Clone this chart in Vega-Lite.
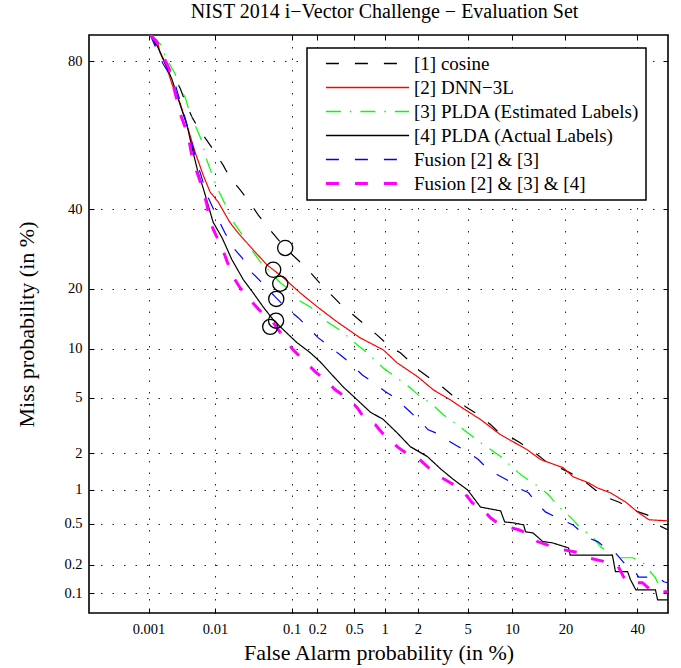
{
  "$schema": "https://vega.github.io/schema/vega-lite/v6.json",
  "width": 579,
  "height": 578,
  "autosize": {"type": "none"},
  "padding": {"left": 89, "top": 35, "right": 13, "bottom": 55},
  "background": "white",
  "config": {
    "font": "Liberation Serif",
    "view": {"stroke": "black", "strokeWidth": 1.6},
    "axis": {
      "labelFont": "Liberation Serif", "labelFontSize": 14.5, "labelColor": "black",
      "titleFont": "Liberation Serif", "titleFontSize": 22, "titleFontWeight": "normal", "titleColor": "black",
      "domain": false, "tickColor": "black", "tickSize": -5, "tickWidth": 1,
      "gridColor": "#222", "gridDash": [1.5, 10], "gridWidth": 1, "gridOpacity": 1,
      "labelOverlap": false, "labelFlush": false
    }
  },
  "title": {"text": "NIST 2014 i−Vector Challenge − Evaluation Set", "fontSize": 20, "font": "Liberation Serif", "fontWeight": "normal", "color": "black", "offset": 13, "dx": 6, "anchor": "middle"},
  "datasets": {
    "curves": [
      {"s":"[1] cosine","fa":0.00106,"miss":85},{"s":"[1] cosine","fa":0.0021,"miss":78.4},{"s":"[1] cosine","fa":0.0031,"miss":73.9},{"s":"[1] cosine","fa":0.0037,"miss":70.6},{"s":"[1] cosine","fa":0.0047,"miss":66.4},{"s":"[1] cosine","fa":0.0057,"miss":63.7},{"s":"[1] cosine","fa":0.01,"miss":56.7},{"s":"[1] cosine","fa":0.013,"miss":52.9},{"s":"[1] cosine","fa":0.016,"miss":49.4},{"s":"[1] cosine","fa":0.0222,"miss":45.6},{"s":"[1] cosine","fa":0.0295,"miss":42.1},{"s":"[1] cosine","fa":0.0383,"miss":38.4},{"s":"[1] cosine","fa":0.0546,"miss":34.2},{"s":"[1] cosine","fa":0.0837,"miss":29.5},{"s":"[1] cosine","fa":0.1375,"miss":25.3},{"s":"[1] cosine","fa":0.175,"miss":23.1},{"s":"[1] cosine","fa":0.232,"miss":20.4},{"s":"[1] cosine","fa":0.3,"miss":18.4},{"s":"[1] cosine","fa":0.383,"miss":16.5},{"s":"[1] cosine","fa":0.49,"miss":15.05},{"s":"[1] cosine","fa":0.677,"miss":13.1},{"s":"[1] cosine","fa":0.848,"miss":11.85},{"s":"[1] cosine","fa":1.13,"miss":10.2},{"s":"[1] cosine","fa":1.4,"miss":9.46},{"s":"[1] cosine","fa":1.72,"miss":8.38},{"s":"[1] cosine","fa":2.02,"miss":7.5},{"s":"[1] cosine","fa":2.65,"miss":6.51},{"s":"[1] cosine","fa":3.26,"miss":5.8},{"s":"[1] cosine","fa":4.05,"miss":4.98},{"s":"[1] cosine","fa":4.83,"miss":4.35},{"s":"[1] cosine","fa":5.98,"miss":3.83},{"s":"[1] cosine","fa":7.25,"miss":3.27},{"s":"[1] cosine","fa":8.17,"miss":2.89},{"s":"[1] cosine","fa":9.8,"miss":2.65},{"s":"[1] cosine","fa":11.3,"miss":2.39},{"s":"[1] cosine","fa":14.2,"miss":1.94},{"s":"[1] cosine","fa":16.1,"miss":1.68},{"s":"[1] cosine","fa":18.2,"miss":1.56},{"s":"[1] cosine","fa":21.1,"miss":1.39},{"s":"[1] cosine","fa":23.6,"miss":1.26},{"s":"[1] cosine","fa":28.2,"miss":0.964},{"s":"[1] cosine","fa":31,"miss":0.856},{"s":"[1] cosine","fa":34.3,"miss":0.786},{"s":"[1] cosine","fa":38.6,"miss":0.669},{"s":"[1] cosine","fa":43.4,"miss":0.6},{"s":"[1] cosine","fa":46.6,"miss":0.488},{"s":"[1] cosine","fa":49.9,"miss":0.439},

      {"s":"[2] DNN−3L","fa":0.00106,"miss":85},{"s":"[2] DNN−3L","fa":0.00137,"miss":84},{"s":"[2] DNN−3L","fa":0.00152,"miss":81.7},{"s":"[2] DNN−3L","fa":0.00196,"miss":78.4},{"s":"[2] DNN−3L","fa":0.00233,"miss":74.9},{"s":"[2] DNN−3L","fa":0.0031,"miss":70.2},{"s":"[2] DNN−3L","fa":0.00393,"miss":64.3},{"s":"[2] DNN−3L","fa":0.00517,"miss":56.7},{"s":"[2] DNN−3L","fa":0.00677,"miss":50},{"s":"[2] DNN−3L","fa":0.00853,"miss":45},{"s":"[2] DNN−3L","fa":0.0111,"miss":42.1},{"s":"[2] DNN−3L","fa":0.016,"miss":36.4},{"s":"[2] DNN−3L","fa":0.0209,"miss":33.4},{"s":"[2] DNN−3L","fa":0.033,"miss":29},{"s":"[2] DNN−3L","fa":0.05,"miss":25.3},{"s":"[2] DNN−3L","fa":0.0795,"miss":22.4},{"s":"[2] DNN−3L","fa":0.1265,"miss":19.2},{"s":"[2] DNN−3L","fa":0.2,"miss":16.5},{"s":"[2] DNN−3L","fa":0.33,"miss":13.9},{"s":"[2] DNN−3L","fa":0.576,"miss":11.45},{"s":"[2] DNN−3L","fa":0.971,"miss":9.82},{"s":"[2] DNN−3L","fa":1.31,"miss":8.26},{"s":"[2] DNN−3L","fa":2.0,"miss":6.8},{"s":"[2] DNN−3L","fa":2.7,"miss":5.63},{"s":"[2] DNN−3L","fa":3.7,"miss":4.84},{"s":"[2] DNN−3L","fa":4.42,"miss":4.35},{"s":"[2] DNN−3L","fa":6.18,"miss":3.55},{"s":"[2] DNN−3L","fa":8.47,"miss":2.75},{"s":"[2] DNN−3L","fa":10.24,"miss":2.43},{"s":"[2] DNN−3L","fa":12.4,"miss":2.12},{"s":"[2] DNN−3L","fa":14.77,"miss":1.78},{"s":"[2] DNN−3L","fa":19.5,"miss":1.53},{"s":"[2] DNN−3L","fa":21.8,"miss":1.29},{"s":"[2] DNN−3L","fa":25.7,"miss":1.15},{"s":"[2] DNN−3L","fa":28.2,"miss":1.04},{"s":"[2] DNN−3L","fa":31.8,"miss":0.946},{"s":"[2] DNN−3L","fa":36.4,"miss":0.786},{"s":"[2] DNN−3L","fa":40.1,"miss":0.642},{"s":"[2] DNN−3L","fa":43.8,"miss":0.544},{"s":"[2] DNN−3L","fa":49.9,"miss":0.532},

      {"s":"[3] PLDA (Estimated Labels)","fa":0.00106,"miss":85},{"s":"[3] PLDA (Estimated Labels)","fa":0.00152,"miss":83.4},{"s":"[3] PLDA (Estimated Labels)","fa":0.00182,"miss":81.1},{"s":"[3] PLDA (Estimated Labels)","fa":0.0026,"miss":77.2},{"s":"[3] PLDA (Estimated Labels)","fa":0.0031,"miss":73.9},{"s":"[3] PLDA (Estimated Labels)","fa":0.0037,"miss":71.6},{"s":"[3] PLDA (Estimated Labels)","fa":0.0043,"miss":67.8},{"s":"[3] PLDA (Estimated Labels)","fa":0.0066,"miss":59.6},{"s":"[3] PLDA (Estimated Labels)","fa":0.0072,"miss":55.8},{"s":"[3] PLDA (Estimated Labels)","fa":0.0107,"miss":46.2},{"s":"[3] PLDA (Estimated Labels)","fa":0.013,"miss":42.7},{"s":"[3] PLDA (Estimated Labels)","fa":0.0172,"miss":37},{"s":"[3] PLDA (Estimated Labels)","fa":0.0222,"miss":33.7},{"s":"[3] PLDA (Estimated Labels)","fa":0.033,"miss":28.5},{"s":"[3] PLDA (Estimated Labels)","fa":0.0407,"miss":26.1},{"s":"[3] PLDA (Estimated Labels)","fa":0.0546,"miss":23.7},{"s":"[3] PLDA (Estimated Labels)","fa":0.0728,"miss":21.3},{"s":"[3] PLDA (Estimated Labels)","fa":0.0966,"miss":19.8},{"s":"[3] PLDA (Estimated Labels)","fa":0.12,"miss":17.8},{"s":"[3] PLDA (Estimated Labels)","fa":0.166,"miss":16.5},{"s":"[3] PLDA (Estimated Labels)","fa":0.215,"miss":15.05},{"s":"[3] PLDA (Estimated Labels)","fa":0.257,"miss":13.9},{"s":"[3] PLDA (Estimated Labels)","fa":0.355,"miss":12.6},{"s":"[3] PLDA (Estimated Labels)","fa":0.536,"miss":10.5},{"s":"[3] PLDA (Estimated Labels)","fa":0.677,"miss":9.46},{"s":"[3] PLDA (Estimated Labels)","fa":0.97,"miss":7.7},{"s":"[3] PLDA (Estimated Labels)","fa":1.2,"miss":6.98},{"s":"[3] PLDA (Estimated Labels)","fa":1.72,"miss":5.8},{"s":"[3] PLDA (Estimated Labels)","fa":2.1,"miss":5.06},{"s":"[3] PLDA (Estimated Labels)","fa":2.55,"miss":4.63},{"s":"[3] PLDA (Estimated Labels)","fa":3.26,"miss":3.83},{"s":"[3] PLDA (Estimated Labels)","fa":3.85,"miss":3.44},{"s":"[3] PLDA (Estimated Labels)","fa":5.88,"miss":2.51},{"s":"[3] PLDA (Estimated Labels)","fa":6.48,"miss":2.32},{"s":"[3] PLDA (Estimated Labels)","fa":8.47,"miss":1.88},{"s":"[3] PLDA (Estimated Labels)","fa":9.34,"miss":1.68},{"s":"[3] PLDA (Estimated Labels)","fa":11,"miss":1.39},{"s":"[3] PLDA (Estimated Labels)","fa":12.1,"miss":1.26},{"s":"[3] PLDA (Estimated Labels)","fa":14.77,"miss":1.04},{"s":"[3] PLDA (Estimated Labels)","fa":16.3,"miss":0.91},{"s":"[3] PLDA (Estimated Labels)","fa":18.8,"miss":0.696},{"s":"[3] PLDA (Estimated Labels)","fa":21.1,"miss":0.578},{"s":"[3] PLDA (Estimated Labels)","fa":23.6,"miss":0.459},{"s":"[3] PLDA (Estimated Labels)","fa":27,"miss":0.369},{"s":"[3] PLDA (Estimated Labels)","fa":29.1,"miss":0.3},{"s":"[3] PLDA (Estimated Labels)","fa":33.3,"miss":0.235},{"s":"[3] PLDA (Estimated Labels)","fa":38.6,"miss":0.235},{"s":"[3] PLDA (Estimated Labels)","fa":41.7,"miss":0.214},{"s":"[3] PLDA (Estimated Labels)","fa":45.9,"miss":0.146},{"s":"[3] PLDA (Estimated Labels)","fa":46.6,"miss":0.13},{"s":"[3] PLDA (Estimated Labels)","fa":49.9,"miss":0.13},

      {"s":"[4] PLDA (Actual Labels)","fa":0.00106,"miss":85},{"s":"[4] PLDA (Actual Labels)","fa":0.00114,"miss":84.5},{"s":"[4] PLDA (Actual Labels)","fa":0.00137,"miss":83},{"s":"[4] PLDA (Actual Labels)","fa":0.00169,"miss":80.6},{"s":"[4] PLDA (Actual Labels)","fa":0.00233,"miss":76},{"s":"[4] PLDA (Actual Labels)","fa":0.00288,"miss":71.4},{"s":"[4] PLDA (Actual Labels)","fa":0.00393,"miss":64.3},{"s":"[4] PLDA (Actual Labels)","fa":0.00483,"miss":56.7},{"s":"[4] PLDA (Actual Labels)","fa":0.0057,"miss":50.85},{"s":"[4] PLDA (Actual Labels)","fa":0.00677,"miss":46.2},{"s":"[4] PLDA (Actual Labels)","fa":0.008,"miss":41.2},{"s":"[4] PLDA (Actual Labels)","fa":0.0094,"miss":36.4},{"s":"[4] PLDA (Actual Labels)","fa":0.0126,"miss":32.1},{"s":"[4] PLDA (Actual Labels)","fa":0.0172,"miss":26.55},{"s":"[4] PLDA (Actual Labels)","fa":0.0244,"miss":22},{"s":"[4] PLDA (Actual Labels)","fa":0.033,"miss":19.2},{"s":"[4] PLDA (Actual Labels)","fa":0.0444,"miss":16.5},{"s":"[4] PLDA (Actual Labels)","fa":0.0595,"miss":14.25},{"s":"[4] PLDA (Actual Labels)","fa":0.0795,"miss":12.65},{"s":"[4] PLDA (Actual Labels)","fa":0.1166,"miss":10.76},{"s":"[4] PLDA (Actual Labels)","fa":0.166,"miss":9.46},{"s":"[4] PLDA (Actual Labels)","fa":0.215,"miss":8.38},{"s":"[4] PLDA (Actual Labels)","fa":0.278,"miss":7.19},{"s":"[4] PLDA (Actual Labels)","fa":0.383,"miss":5.88},{"s":"[4] PLDA (Actual Labels)","fa":0.536,"miss":4.84},{"s":"[4] PLDA (Actual Labels)","fa":0.725,"miss":4},{"s":"[4] PLDA (Actual Labels)","fa":0.971,"miss":3.55},{"s":"[4] PLDA (Actual Labels)","fa":1.31,"miss":2.84},{"s":"[4] PLDA (Actual Labels)","fa":1.72,"miss":2.24},{"s":"[4] PLDA (Actual Labels)","fa":2.41,"miss":1.88},{"s":"[4] PLDA (Actual Labels)","fa":3.09,"miss":1.5},{"s":"[4] PLDA (Actual Labels)","fa":3.93,"miss":1.22},{"s":"[4] PLDA (Actual Labels)","fa":5,"miss":1},{"s":"[4] PLDA (Actual Labels)","fa":6.18,"miss":0.71},{"s":"[4] PLDA (Actual Labels)","fa":8.47,"miss":0.655},{"s":"[4] PLDA (Actual Labels)","fa":9.0,"miss":0.52},{"s":"[4] PLDA (Actual Labels)","fa":10.24,"miss":0.51},{"s":"[4] PLDA (Actual Labels)","fa":11.8,"miss":0.488},{"s":"[4] PLDA (Actual Labels)","fa":12.1,"miss":0.42},{"s":"[4] PLDA (Actual Labels)","fa":13.4,"miss":0.41},{"s":"[4] PLDA (Actual Labels)","fa":15.2,"miss":0.339},{"s":"[4] PLDA (Actual Labels)","fa":17.1,"miss":0.33},{"s":"[4] PLDA (Actual Labels)","fa":20.7,"miss":0.294},{"s":"[4] PLDA (Actual Labels)","fa":21.1,"miss":0.25},{"s":"[4] PLDA (Actual Labels)","fa":32.4,"miss":0.25},{"s":"[4] PLDA (Actual Labels)","fa":33.3,"miss":0.17},{"s":"[4] PLDA (Actual Labels)","fa":37,"miss":0.17},{"s":"[4] PLDA (Actual Labels)","fa":37.9,"miss":0.14},{"s":"[4] PLDA (Actual Labels)","fa":39.6,"miss":0.109},{"s":"[4] PLDA (Actual Labels)","fa":45.9,"miss":0.109},{"s":"[4] PLDA (Actual Labels)","fa":46.6,"miss":0.085},{"s":"[4] PLDA (Actual Labels)","fa":49.9,"miss":0.085},

      {"s":"Fusion [2] & [3]","fa":0.00106,"miss":85},{"s":"Fusion [2] & [3]","fa":0.00141,"miss":81.7},{"s":"Fusion [2] & [3]","fa":0.00169,"miss":79.5},{"s":"Fusion [2] & [3]","fa":0.0026,"miss":74.9},{"s":"Fusion [2] & [3]","fa":0.00288,"miss":72.5},{"s":"Fusion [2] & [3]","fa":0.0037,"miss":66.2},{"s":"Fusion [2] & [3]","fa":0.0043,"miss":61.6},{"s":"Fusion [2] & [3]","fa":0.0055,"miss":53.8},{"s":"Fusion [2] & [3]","fa":0.0077,"miss":44.1},{"s":"Fusion [2] & [3]","fa":0.0094,"miss":40.3},{"s":"Fusion [2] & [3]","fa":0.0118,"miss":36.1},{"s":"Fusion [2] & [3]","fa":0.0138,"miss":33.4},{"s":"Fusion [2] & [3]","fa":0.019,"miss":29},{"s":"Fusion [2] & [3]","fa":0.0236,"miss":27},{"s":"Fusion [2] & [3]","fa":0.032,"miss":23.5},{"s":"Fusion [2] & [3]","fa":0.0429,"miss":21.3},{"s":"Fusion [2] & [3]","fa":0.0631,"miss":18.4},{"s":"Fusion [2] & [3]","fa":0.0837,"miss":16.5},{"s":"Fusion [2] & [3]","fa":0.12,"miss":14.6},{"s":"Fusion [2] & [3]","fa":0.145,"miss":13.45},{"s":"Fusion [2] & [3]","fa":0.205,"miss":11.45},{"s":"Fusion [2] & [3]","fa":0.257,"miss":10.5},{"s":"Fusion [2] & [3]","fa":0.355,"miss":9.22},{"s":"Fusion [2] & [3]","fa":0.451,"miss":8.26},{"s":"Fusion [2] & [3]","fa":0.604,"miss":6.98},{"s":"Fusion [2] & [3]","fa":0.761,"miss":6.33},{"s":"Fusion [2] & [3]","fa":1.02,"miss":5.47},{"s":"Fusion [2] & [3]","fa":1.255,"miss":4.98},{"s":"Fusion [2] & [3]","fa":1.46,"miss":4.49},{"s":"Fusion [2] & [3]","fa":1.72,"miss":4},{"s":"Fusion [2] & [3]","fa":2.1,"miss":3.44},{"s":"Fusion [2] & [3]","fa":2.45,"miss":2.99},{"s":"Fusion [2] & [3]","fa":3.09,"miss":2.75},{"s":"Fusion [2] & [3]","fa":3.7,"miss":2.43},{"s":"Fusion [2] & [3]","fa":4.27,"miss":2.24},{"s":"Fusion [2] & [3]","fa":5,"miss":2.04},{"s":"Fusion [2] & [3]","fa":5.98,"miss":1.78},{"s":"Fusion [2] & [3]","fa":6.7,"miss":1.56},{"s":"Fusion [2] & [3]","fa":8.07,"miss":1.34},{"s":"Fusion [2] & [3]","fa":9.8,"miss":1.17},{"s":"Fusion [2] & [3]","fa":11.6,"miss":1},{"s":"Fusion [2] & [3]","fa":12.6,"miss":0.946},{"s":"Fusion [2] & [3]","fa":14.4,"miss":0.741},{"s":"Fusion [2] & [3]","fa":15.7,"miss":0.642},{"s":"Fusion [2] & [3]","fa":18.2,"miss":0.567},{"s":"Fusion [2] & [3]","fa":21.8,"miss":0.488},{"s":"Fusion [2] & [3]","fa":25.5,"miss":0.369},{"s":"Fusion [2] & [3]","fa":28.2,"miss":0.339},{"s":"Fusion [2] & [3]","fa":31,"miss":0.282},{"s":"Fusion [2] & [3]","fa":33.3,"miss":0.263},{"s":"Fusion [2] & [3]","fa":36.4,"miss":0.199},{"s":"Fusion [2] & [3]","fa":38.9,"miss":0.178},{"s":"Fusion [2] & [3]","fa":40.5,"miss":0.149},{"s":"Fusion [2] & [3]","fa":46.9,"miss":0.149},{"s":"Fusion [2] & [3]","fa":48.6,"miss":0.133},{"s":"Fusion [2] & [3]","fa":49.9,"miss":0.13},

      {"s":"Fusion [2] & [3] & [4]","fa":0.00106,"miss":85},{"s":"Fusion [2] & [3] & [4]","fa":0.00137,"miss":83.6},{"s":"Fusion [2] & [3] & [4]","fa":0.00163,"miss":81.5},{"s":"Fusion [2] & [3] & [4]","fa":0.0021,"miss":78.4},{"s":"Fusion [2] & [3] & [4]","fa":0.0026,"miss":72.8},{"s":"Fusion [2] & [3] & [4]","fa":0.0031,"miss":67.5},{"s":"Fusion [2] & [3] & [4]","fa":0.00407,"miss":61.6},{"s":"Fusion [2] & [3] & [4]","fa":0.0047,"miss":54.9},{"s":"Fusion [2] & [3] & [4]","fa":0.0055,"miss":50.85},{"s":"Fusion [2] & [3] & [4]","fa":0.0066,"miss":46.2},{"s":"Fusion [2] & [3] & [4]","fa":0.0077,"miss":41.2},{"s":"Fusion [2] & [3] & [4]","fa":0.00853,"miss":36.4},{"s":"Fusion [2] & [3] & [4]","fa":0.01,"miss":33.4},{"s":"Fusion [2] & [3] & [4]","fa":0.0126,"miss":29.5},{"s":"Fusion [2] & [3] & [4]","fa":0.0148,"miss":26.1},{"s":"Fusion [2] & [3] & [4]","fa":0.0179,"miss":22.6},{"s":"Fusion [2] & [3] & [4]","fa":0.0222,"miss":20.2},{"s":"Fusion [2] & [3] & [4]","fa":0.032,"miss":17.4},{"s":"Fusion [2] & [3] & [4]","fa":0.0429,"miss":15.4},{"s":"Fusion [2] & [3] & [4]","fa":0.0595,"miss":13.8},{"s":"Fusion [2] & [3] & [4]","fa":0.0795,"miss":11.6},{"s":"Fusion [2] & [3] & [4]","fa":0.1046,"miss":9.82},{"s":"Fusion [2] & [3] & [4]","fa":0.1375,"miss":8.62},{"s":"Fusion [2] & [3] & [4]","fa":0.19,"miss":7.29},{"s":"Fusion [2] & [3] & [4]","fa":0.245,"miss":6.51},{"s":"Fusion [2] & [3] & [4]","fa":0.315,"miss":5.63},{"s":"Fusion [2] & [3] & [4]","fa":0.421,"miss":4.98},{"s":"Fusion [2] & [3] & [4]","fa":0.536,"miss":4.28},{"s":"Fusion [2] & [3] & [4]","fa":0.618,"miss":3.72},{"s":"Fusion [2] & [3] & [4]","fa":0.809,"miss":3.27},{"s":"Fusion [2] & [3] & [4]","fa":0.95,"miss":2.84},{"s":"Fusion [2] & [3] & [4]","fa":1.13,"miss":2.51},{"s":"Fusion [2] & [3] & [4]","fa":1.31,"miss":2.24},{"s":"Fusion [2] & [3] & [4]","fa":1.65,"miss":1.94},{"s":"Fusion [2] & [3] & [4]","fa":1.99,"miss":1.84},{"s":"Fusion [2] & [3] & [4]","fa":2.41,"miss":1.56},{"s":"Fusion [2] & [3] & [4]","fa":3.19,"miss":1.26},{"s":"Fusion [2] & [3] & [4]","fa":3.93,"miss":1.11},{"s":"Fusion [2] & [3] & [4]","fa":4.66,"miss":0.964},{"s":"Fusion [2] & [3] & [4]","fa":5.42,"miss":0.771},{"s":"Fusion [2] & [3] & [4]","fa":6.18,"miss":0.71},{"s":"Fusion [2] & [3] & [4]","fa":7.25,"miss":0.567},{"s":"Fusion [2] & [3] & [4]","fa":8.07,"miss":0.51},{"s":"Fusion [2] & [3] & [4]","fa":9.34,"miss":0.469},{"s":"Fusion [2] & [3] & [4]","fa":11,"miss":0.439},{"s":"Fusion [2] & [3] & [4]","fa":13.2,"miss":0.392},{"s":"Fusion [2] & [3] & [4]","fa":14.2,"miss":0.339},{"s":"Fusion [2] & [3] & [4]","fa":17.3,"miss":0.3},{"s":"Fusion [2] & [3] & [4]","fa":19.5,"miss":0.282},{"s":"Fusion [2] & [3] & [4]","fa":23.6,"miss":0.263},{"s":"Fusion [2] & [3] & [4]","fa":25.5,"miss":0.235},{"s":"Fusion [2] & [3] & [4]","fa":30.4,"miss":0.214},{"s":"Fusion [2] & [3] & [4]","fa":33.9,"miss":0.199},{"s":"Fusion [2] & [3] & [4]","fa":35.8,"miss":0.149},{"s":"Fusion [2] & [3] & [4]","fa":37,"miss":0.13},{"s":"Fusion [2] & [3] & [4]","fa":41.7,"miss":0.13},{"s":"Fusion [2] & [3] & [4]","fa":45,"miss":0.104},{"s":"Fusion [2] & [3] & [4]","fa":49.9,"miss":0.104}
    ],
    "dcf": [
      {"s":"[1] cosine","fa":0.0837,"miss":29.5},
      {"s":"[2] DNN−3L","fa":0.0595,"miss":24.2},
      {"s":"[3] PLDA (Estimated Labels)","fa":0.0728,"miss":21.1},
      {"s":"Fusion [2] & [3]","fa":0.065,"miss":18.0},
      {"s":"[4] PLDA (Actual Labels)","fa":0.0646,"miss":14.1},
      {"s":"Fusion [2] & [3] & [4]","fa":0.0546,"miss":13.1}
    ]
  },
  "resolve": {"axis": {"x": "independent", "y": "independent"}},
  "layer": [
    {
      "data": {"name": "curves"},
      "transform": [
        {"calculate": "quantileNormal(datum.fa/100)", "as": "zfa"},
        {"calculate": "quantileNormal(datum.miss/100)", "as": "zmiss"}
      ],
      "mark": {"type": "line", "clip": true},
      "encoding": {
        "x": {"field": "zfa", "type": "quantitative",
          "scale": {"domain": [-4.7534, 0], "nice": false, "zero": false},
          "axis": {"title": "False Alarm probability (in %)", "grid": true,
            "values": [-4.264891, -3.719016, -3.090232, -2.878162, -2.575829, -2.326348, -2.053749, -1.644854, -1.281552, -0.841621, -0.253347],
            "labelExpr": "format(cumulativeNormal(datum.value)*100, '.2~r')",
            "labelPadding": 14, "titlePadding": 7}},
        "y": {"field": "zmiss", "type": "quantitative",
          "scale": {"domain": [-3.235, 1.034], "nice": false, "zero": false},
          "axis": {"title": "Miss probability (in %)", "grid": true,
            "values": [-3.090232, -2.878162, -2.575829, -2.326348, -2.053749, -1.644854, -1.281552, -0.841621, -0.253347, 0.841621],
            "labelExpr": "format(cumulativeNormal(datum.value)*100, '.2~r')",
            "labelPadding": 12, "titlePadding": 25}},
        "color": {"field": "s", "type": "nominal",
          "scale": {"domain": ["[1] cosine", "[2] DNN−3L", "[3] PLDA (Estimated Labels)", "[4] PLDA (Actual Labels)", "Fusion [2] & [3]", "Fusion [2] & [3] & [4]"],
                    "range": ["#000000", "#ff0000", "#00ff00", "#000000", "#0000ff", "#ff00ff"]},
          "legend": {"title": null, "orient": "none", "legendX": 218, "legendY": 13,
            "symbolType": "M-10.4,0H10.4", "symbolSize": 64, "symbolOffset": 45, "labelOffset": 37,
            "labelFont": "Liberation Serif", "labelFontSize": 19, "labelColor": "black", "labelLimit": 400,
            "strokeColor": "black", "fillColor": "white", "padding": 6, "rowPadding": 4,
            "symbolStrokeWidth": 1.3,
            "encode": {
              "legend": {"update": {"strokeWidth": {"value": 1.5}}},
              "symbols": {"update": {"strokeWidth": {"signal": "datum.value === 'Fusion [2] & [3] & [4]' ? 3 : 1.3"}, "fill": {"value": "transparent"}}}
            }}},
        "strokeDash": {"field": "s", "type": "nominal",
          "scale": {"domain": ["[1] cosine", "[2] DNN−3L", "[3] PLDA (Estimated Labels)", "[4] PLDA (Actual Labels)", "Fusion [2] & [3]", "Fusion [2] & [3] & [4]"],
                    "range": [[13, 16], [1, 0], [15, 9, 1.5, 9], [1, 0], [13, 16], [13, 16]]},
          "legend": {"title": null}},
        "strokeWidth": {"condition": {"test": "datum.s === 'Fusion [2] & [3] & [4]'", "value": 3}, "value": 1.2}
      }
    },
    {
      "data": {"name": "dcf"},
      "transform": [
        {"calculate": "quantileNormal(datum.fa/100)", "as": "zfa"},
        {"calculate": "quantileNormal(datum.miss/100)", "as": "zmiss"}
      ],
      "mark": {"type": "point", "shape": "circle", "size": 230, "filled": false, "stroke": "black", "strokeWidth": 1.3, "opacity": 1},
      "encoding": {
        "x": {"field": "zfa", "type": "quantitative", "axis": null},
        "y": {"field": "zmiss", "type": "quantitative", "axis": null}
      }
    },
    {
      "data": {"name": "dcf"},
      "transform": [
        {"calculate": "quantileNormal(datum.fa/100)", "as": "zfa"},
        {"calculate": "quantileNormal(datum.miss/100)", "as": "zmiss"}
      ],
      "mark": {"type": "point", "opacity": 0},
      "encoding": {
        "x": {"field": "zfa", "type": "quantitative",
          "axis": {"orient": "top", "labels": false, "grid": false, "title": null,
            "values": [-4.264891, -3.719016, -3.090232, -2.878162, -2.575829, -2.326348, -2.053749, -1.644854, -1.281552, -0.841621, -0.253347]}},
        "y": {"field": "zmiss", "type": "quantitative",
          "axis": {"orient": "right", "labels": false, "grid": false, "title": null,
            "values": [-3.090232, -2.878162, -2.575829, -2.326348, -2.053749, -1.644854, -1.281552, -0.841621, -0.253347, 0.841621]}}
      }
    }
  ]
}
